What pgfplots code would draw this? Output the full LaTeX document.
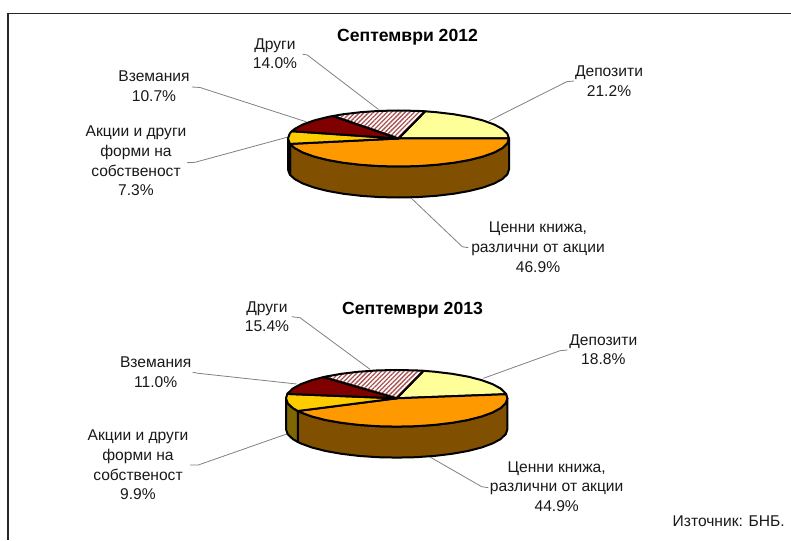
\documentclass[border=0pt]{standalone}
\usepackage{fontspec}
\setmainfont{Liberation Sans}
\usepackage{pgfplots}
\pgfplotsset{compat=1.18}
\usetikzlibrary{patterns.meta}

\definecolor{depo}{HTML}{FFFF99}
\definecolor{cenni}{HTML}{FF9900}
\definecolor{akcii}{HTML}{FFCC00}
\definecolor{vzem}{HTML}{800000}
\definecolor{hatch}{HTML}{A85050}
\definecolor{wallb}{HTML}{804F00}
\definecolor{wally}{HTML}{806600}

\tikzset{
  lbl/.style={align=center, font=\fontsize{15.6}{19.6}\selectfont, inner sep=0pt, text=black!90},
}
\pgfplotsset{
  slice/.style={draw=black, line width=2pt, line join=round},
  leader/.style={draw=black!50, line width=0.8pt},
}

\begin{document}
\begin{tikzpicture}
\begin{axis}[
    scale only axis, width=791pt, height=540pt,
    xmin=0, xmax=791, ymin=0, ymax=540, y dir=reverse,
    hide axis,
  ]
  % frame
  \addplot[draw=white, line width=0pt] coordinates {(0,0) (791,0) (791,540) (0,540)} -- cycle;
  \addplot[draw=black!85, line width=1.8pt] coordinates {(8,540) (8,13.5) (791,13.5)};

  % leaders, 2012
  \addplot[leader] coordinates {(302.7,54.3) (307.3,55) (378.3,109.3)};
  \addplot[leader] coordinates {(192,87) (200,87.5) (306,121.7)};
  \addplot[leader] coordinates {(187,162.7) (195,162.3) (287,137.3)};
  \addplot[leader] coordinates {(574,81) (566.7,81.7) (489.3,120.7)};
  \addplot[leader] coordinates {(468.3,247.7) (462.3,246.7) (410,197)};
  % leaders, 2013
  \addplot[leader] coordinates {(291.7,316.7) (300,317.7) (370,369.3)};
  \addplot[leader] coordinates {(192.7,372.3) (198.3,373.3) (296.7,384)};
  \addplot[leader] coordinates {(190,465) (198.3,465) (286.7,434)};
  \addplot[leader] coordinates {(567.3,350) (560,350.7) (483.3,378.3)};
  \addplot[leader] coordinates {(488.3,487.7) (481.7,486.7) (430,457)};

  % 2012 side wall
  \addplot[slice, fill=wallb] coordinates {(509,138.5) (507.3,143.4) (502.3,148.1) (494.2,152.5) (483.1,156.5) (469.5,159.95) (453.75,162.75) (436.3,164.8) (417.7,166.1) (398.5,166.5) (379.3,166.1) (360.7,164.8) (343.25,162.75) (327.5,159.95) (313.9,156.5) (302.8,152.5) (294.7,148.1) (290.1,143.9)
    (290.1,174.9) (294.7,179.1) (302.8,183.5) (313.9,187.5) (327.5,190.95) (343.25,193.75) (360.7,195.8) (379.3,197.1) (398.5,197.5) (417.7,197.1) (436.3,195.8) (453.75,193.75) (469.5,190.95) (483.1,187.5) (494.2,183.5) (502.3,179.1) (507.3,174.4) (509,169.5)} -- cycle;
  \addplot[slice, fill=wally] coordinates {(288,138.5) (289.7,143.4) (290.1,143.9) (290.1,174.9) (289.7,174.4) (288,169.5)} -- cycle;
  % 2012 top: 21.2, 46.9, 7.3, 10.7, 14.0
  \addplot[slice, fill=depo] coordinates {(398.5,138.5) (425.2,111.3) (436.3,112.2) (453.75,114.25) (469.5,117.05) (483.1,120.5) (494.2,124.5) (502.3,128.9) (507.3,133.6) (509,138.5)} -- cycle;
  \addplot[slice, fill=cenni] coordinates {(398.5,138.5) (509,138.5) (507.3,143.4) (502.3,148.1) (494.2,152.5) (483.1,156.5) (469.5,159.95) (453.75,162.75) (436.3,164.8) (417.7,166.1) (398.5,166.5) (379.3,166.1) (360.7,164.8) (343.25,162.75) (327.5,159.95) (313.9,156.5) (302.8,152.5) (294.7,148.1) (290.1,143.9)} -- cycle;
  \addplot[slice, fill=akcii] coordinates {(398.5,138.5) (290.1,143.9) (289.7,143.4) (288,138.5) (289.7,133.6) (291.8,131.2)} -- cycle;
  \addplot[slice, fill=vzem] coordinates {(398.5,138.5) (291.8,131.2) (294.7,128.9) (302.8,124.5) (313.9,120.5) (327.5,117.05) (332.9,116)} -- cycle;
  \addplot[slice, pattern={Lines[angle=45,distance=3.2pt,line width=1.3pt]}, pattern color=hatch] coordinates {(398.5,138.5) (332.9,116) (343.25,114.25) (360.7,112.2) (379.3,110.9) (398.5,110.5) (417.7,110.9) (425.2,111.3)} -- cycle;

  % 2013 side wall
  \addplot[slice, fill=wallb] coordinates {(507.4,398.3) (505.7,403.2) (500.7,408) (492.6,412.45) (481.5,416.5) (467.9,420) (452.05,422.8) (434.6,424.9) (415.9,426.2) (396.7,426.6) (377.5,426.2) (358.8,424.9) (341.35,422.8) (325.5,420) (311.9,416.5) (300.8,412.45) (297.8,411)
    (297.8,442) (300.8,443.45) (311.9,447.5) (325.5,451) (341.35,453.8) (358.8,455.9) (377.5,457.2) (396.7,457.6) (415.9,457.2) (434.6,455.9) (452.05,453.8) (467.9,451) (481.5,447.5) (492.6,443.45) (500.7,439) (505.7,434.2) (507.4,429.3)} -- cycle;
  \addplot[slice, fill=wally] coordinates {(297.8,411) (292.7,408) (287.7,403.2) (286,398.3) (286,429.3) (287.7,434.2) (292.7,439) (297.8,442)} -- cycle;
  % 2013 top: 18.8, 44.9, 9.9, 11.0, 15.4
  \addplot[slice, fill=depo] coordinates {(396.7,398.3) (423.5,370.8) (434.6,371.7) (452.05,373.8) (467.9,376.6) (481.5,380.1) (492.6,384.15) (500.7,388.6) (505.7,393.4) (506.2,394.2)} -- cycle;
  \addplot[slice, fill=cenni] coordinates {(396.7,398.3) (506.2,394.2) (507.4,398.3) (505.7,403.2) (500.7,408) (492.6,412.45) (481.5,416.5) (467.9,420) (452.05,422.8) (434.6,424.9) (415.9,426.2) (396.7,426.6) (377.5,426.2) (358.8,424.9) (341.35,422.8) (325.5,420) (311.9,416.5) (300.8,412.45) (297.8,411)} -- cycle;
  \addplot[slice, fill=akcii] coordinates {(396.7,398.3) (297.8,411) (292.7,408) (287.7,403.2) (286,398.3) (287.3,393.9)} -- cycle;
  \addplot[slice, fill=vzem] coordinates {(396.7,398.3) (287.3,393.9) (287.7,393.4) (292.7,388.6) (300.8,384.15) (311.9,380.1) (323.35,377.1)} -- cycle;
  \addplot[slice, pattern={Lines[angle=45,distance=3.2pt,line width=1.3pt]}, pattern color=hatch] coordinates {(396.7,398.3) (323.35,377.1) (325.5,376.6) (341.35,373.8) (358.8,371.7) (377.5,370.4) (396.7,370) (415.9,370.4) (423.5,370.8)} -- cycle;

  % titles
  \node[font=\fontsize{17.6}{20}\selectfont\bfseries, inner sep=0pt] at (axis cs:407.5,37) {Септември 2012};
  \node[font=\fontsize{17.6}{20}\selectfont\bfseries, inner sep=0pt] at (axis cs:412.5,310) {Септември 2013};

  % labels, 2012
  \node[lbl] at (axis cs:275,53.8) {Други\\14.0\%};
  \node[lbl] at (axis cs:154,86.4) {Вземания\\10.7\%};
  \node[lbl] at (axis cs:136,161) {Акции и други\\форми на\\собственост\\7.3\%};
  \node[lbl] at (axis cs:609,81.2) {Депозити\\21.2\%};
  \node[lbl] at (axis cs:538,247.3) {Ценни книжа,\\различни от акции\\46.9\%};
  % labels, 2013
  \node[lbl] at (axis cs:267,316.7) {Други\\15.4\%};
  \node[lbl] at (axis cs:155.7,372.3) {Вземания\\11.0\%};
  \node[lbl] at (axis cs:138,465) {Акции и други\\форми на\\собственост\\9.9\%};
  \node[lbl] at (axis cs:603.3,349.7) {Депозити\\18.8\%};
  \node[lbl] at (axis cs:556.7,486.4) {Ценни книжа,\\различни от акции\\44.9\%};

  \node[lbl, anchor=east] at (axis cs:785,521.7) {Източник: БНБ.};
\end{axis}
\end{tikzpicture}
\end{document}
